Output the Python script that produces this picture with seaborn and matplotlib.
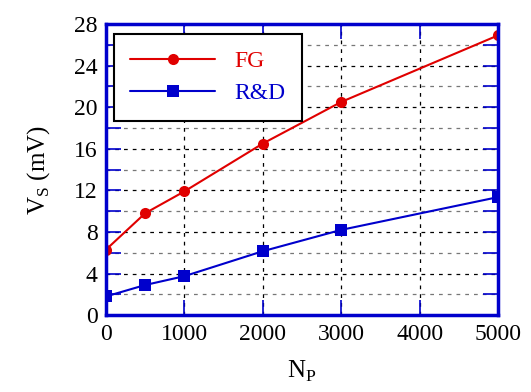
import numpy as np
import pandas as pd
import matplotlib
matplotlib.use("Agg")
import matplotlib.pyplot as plt
from matplotlib.ticker import MultipleLocator
import seaborn as sns

# data
n_p = [0, 500, 1000, 2000, 3000, 5000]
fg = [6.3, 9.8, 11.9, 16.5, 20.5, 26.9]
rd = [1.8, 2.9, 3.75, 6.15, 8.2, 11.35]
series_names = ["FG", "R&D"]

df = pd.DataFrame({
    "Np": n_p * 2,
    "Vs": fg + rd,
    "series": [series_names[0]] * len(n_p) + [series_names[1]] * len(n_p),
})

sns.set_theme(style="white")
plt.rcParams["font.family"] = ["Liberation Serif", "DejaVu Serif"]
plt.rcParams["mathtext.fontset"] = "custom"
plt.rcParams["mathtext.rm"] = "Liberation Serif"
plt.rcParams["text.color"] = "black"
plt.rcParams["axes.labelcolor"] = "black"

fig = plt.figure(figsize=(5.31, 3.92), dpi=100)
ax = fig.add_axes([0.1996, 0.196, 0.7384, 0.743])

colors = {"FG": "#e00000", "R&D": "#0000cc"}
sns.lineplot(data=df, x="Np", y="Vs", hue="series", style="series",
             palette=colors, markers={"FG": "o", "R&D": "s"}, dashes=False,
             markersize=8, linewidth=1.5, markeredgewidth=0, ax=ax)

ax.set_xlim(0, 5000)
ax.set_ylim(0, 28)
ax.xaxis.set_major_locator(MultipleLocator(1000))
ax.yaxis.set_major_locator(MultipleLocator(4))
ax.yaxis.set_minor_locator(MultipleLocator(2))

ax.grid(which="major", color="black", linestyle=(0, (3, 4)), linewidth=0.9)
ax.grid(which="minor", axis="y", color="#777777", linestyle=(0, (3, 4)), linewidth=0.9)

for s in ax.spines.values():
    s.set_color("#0000cc")
    s.set_linewidth(2.5)
ax.tick_params(which="both", direction="in", color="#0000cc", top=True, right=True,
               labelsize=17, labelcolor="black", pad=6)
ax.tick_params(which="major", length=11, width=1.2, left=True, bottom=True)
ax.tick_params(which="minor", length=11, width=1.2, left=True, right=True)

ax.set_xlabel(r"N$_{\rm P}$", fontsize=18, labelpad=10)
ax.set_ylabel(r"V$_{\rm S}$ (mV)", fontsize=18, labelpad=16)

leg = ax.legend(loc="upper left", bbox_to_anchor=(0.02, 0.965), fontsize=17,
                frameon=True, fancybox=False, edgecolor="black", framealpha=1,
                handlelength=3.6, borderpad=0.7, labelspacing=0.45, borderaxespad=0)
leg.get_frame().set_linewidth(1.5)
for txt, name in zip(leg.get_texts(), series_names):
    txt.set_color(colors[name])

fig.savefig("out.png", dpi=100)
